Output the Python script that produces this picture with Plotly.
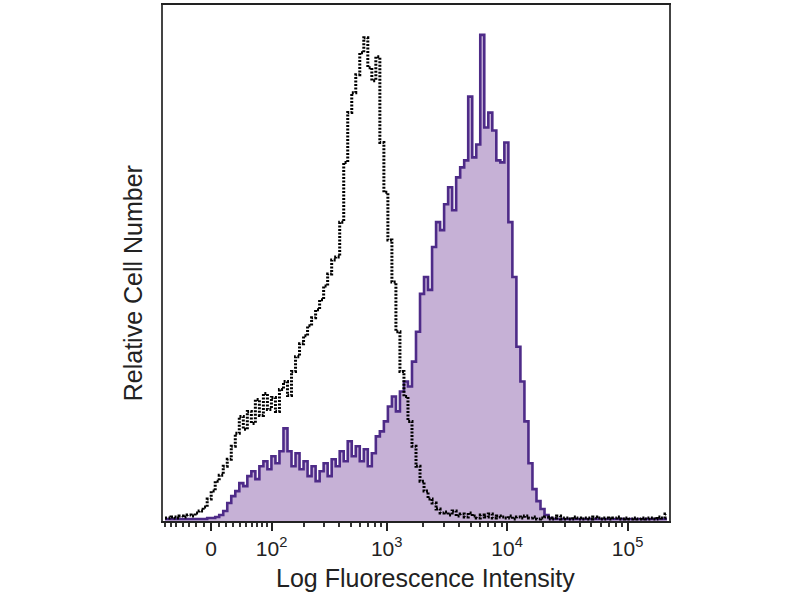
import numpy as np
import plotly.graph_objects as go

# ---- data -------------------------------------------------------------
# histogram bins: 126 channels on a biexponential (asinh) display scale
n_bins = 126
bin_start = -0.4          # display units (decades) of first bin edge
bins_per_decade = 30

# unstained / isotype control (black dotted)
control_counts = [
    3, 3, 4, 3, 5, 4, 6, 5, 8, 10,
    14, 22, 30, 40, 46, 55, 62, 75, 88, 105,
    92, 110, 98, 122, 106, 128, 112, 124, 110, 132,
    140, 126, 150, 165, 178, 186, 196, 204, 212, 222,
    236, 248, 262, 265, 300, 360, 410, 430, 448, 470,
    485, 455, 442, 466, 380, 330, 282, 240, 190, 150,
    125, 100, 75, 55, 40, 30, 22, 18, 12, 8,
    9, 6, 10, 5, 7, 4, 8, 5, 3, 6,
    4, 7, 3, 5, 4, 3, 5, 2, 4, 3,
    5, 3, 4, 2, 3, 4, 2, 3, 5, 2,
    3, 2, 4, 3, 2, 3, 2, 4, 3, 2,
    3, 2, 3, 4, 2, 3, 2, 3, 2, 3,
    2, 3, 2, 4, 3, 7,
]

# stained sample (purple filled)
stained_counts = [
    2, 2, 2, 2, 2, 2, 2, 2, 2, 2,
    2, 3, 3, 4, 6, 10, 18, 25, 30, 38,
    35, 45, 50, 42, 55, 60, 52, 65, 58, 70,
    93, 70, 55, 68, 52, 60, 45, 55, 40, 50,
    58, 45, 62, 55, 70, 60, 80, 65, 75, 60,
    72, 55, 68, 85, 90, 100, 115, 125, 110, 130,
    140, 135, 160, 190, 228, 245, 232, 275, 300, 292,
    318, 335, 312, 345, 355, 362, 426, 365, 378, 488,
    395, 410, 392, 362, 360, 380, 300, 245, 175, 140,
    100, 58, 32, 20, 12, 6, 3, 2, 2, 2,
    2, 2, 2, 2, 2, 2, 2, 2, 2, 2,
    2, 2, 2, 2, 2, 2, 2, 2, 2, 2,
    2, 2, 2, 2, 2, 2,
]

major_values = [0, 1e2, 1e3, 1e4, 1e5]
major_labels = ["0", "10<sup>2</sup>", "10<sup>3</sup>", "10<sup>4</sup>", "10<sup>5</sup>"]
minor_values = ([-m * 10 for m in range(1, 10)]
                + [m * 10 ** k for k in range(1, 5) for m in range(1, 10) if not (m == 1 and k > 1)])

cofactor = 70.0


def display(v):
    return np.arcsinh(np.asarray(v, dtype=float) / cofactor) / np.log(10)


x_centers = bin_start + (np.arange(n_bins) + 0.5) / bins_per_decade

FONT = "Liberation Sans Narrow, Liberation Sans, sans-serif"

# ---- figure -----------------------------------------------------------
fig = go.Figure()

fig.add_trace(go.Scatter(
    x=x_centers, y=stained_counts, mode="lines",
    line=dict(color="#4e2b88", width=2.6, shape="hvh"),
    fill="tozeroy", fillcolor="#c6b1d6",
    hoverinfo="skip", showlegend=False,
))
fig.add_trace(go.Scatter(
    x=x_centers, y=control_counts, mode="lines",
    line=dict(color="#000000", width=3, shape="hvh", dash="2px,1.5px"),
    hoverinfo="skip", showlegend=False,
))

x_lo = bin_start
x_hi = bin_start + n_bins / bins_per_decade

fig.update_xaxes(
    range=[x_lo, x_hi],
    tickmode="array",
    tickvals=list(display(major_values)),
    ticktext=major_labels,
    ticks="outside", ticklen=8, tickwidth=2, tickcolor="#222",
    minor=dict(tickmode="array", tickvals=list(display(minor_values)),
               ticks="outside", ticklen=4, tickwidth=1.5, tickcolor="#333"),
    showline=True, linecolor="#222", linewidth=2, mirror=True,
    showgrid=False, zeroline=False,
    tickfont=dict(family=FONT, size=21, color="#222"),
)
fig.update_yaxes(
    range=[0, 518],
    showticklabels=False, ticks="",
    showline=True, linecolor="#444", linewidth=2, mirror=True,
    showgrid=False, zeroline=False,
)

fig.add_annotation(
    text="Log Fluorescence Intensity", xref="paper", yref="paper",
    x=0.518, y=-0.110, xanchor="center", yanchor="middle", showarrow=False,
    font=dict(family=FONT, size=25, color="#222"),
)
fig.add_annotation(
    text="Relative Cell Number", xref="paper", yref="paper",
    x=-0.059, y=0.461, xanchor="center", yanchor="middle",
    showarrow=False, textangle=-90,
    font=dict(family=FONT, size=25, color="#222"),
)

fig.update_layout(
    width=800, height=600,
    margin=dict(l=163, r=131, t=3, b=79),
    paper_bgcolor="white", plot_bgcolor="white",
)

fig.write_html("out.html", config={"displayModeBar": False},
               post_script="document.body.style.margin='0';")
